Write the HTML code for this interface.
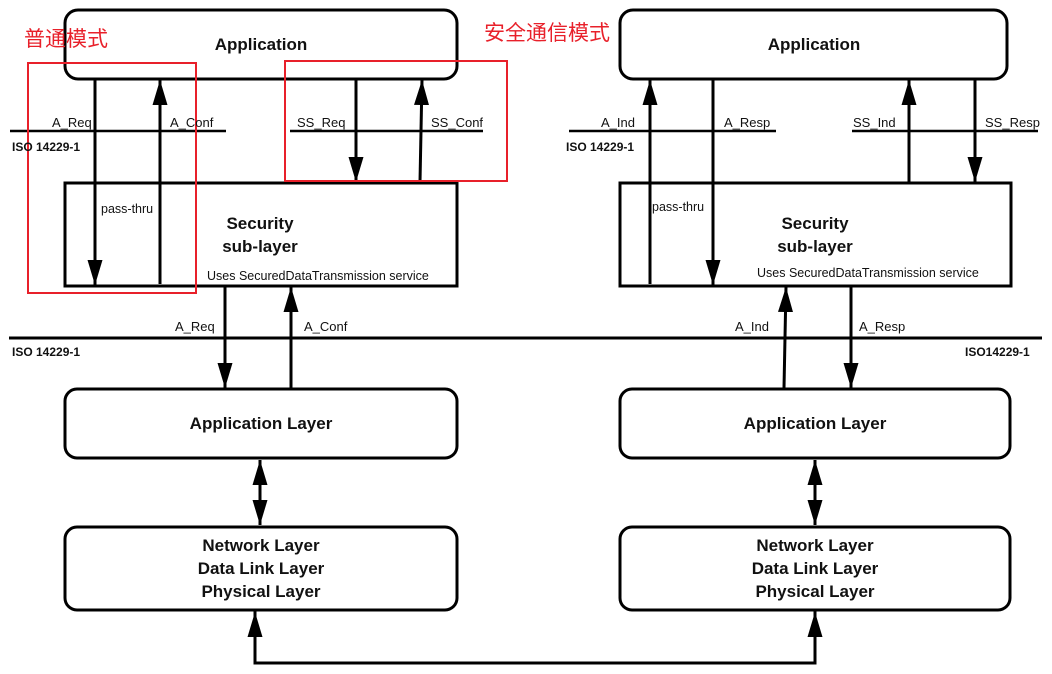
<!DOCTYPE html>
<html><head><meta charset="utf-8"><style>
html,body{margin:0;padding:0;background:#fff;}
svg{display:block;}
text{font-family:"Liberation Sans",Arial,sans-serif;fill:#111;}
.b{font-weight:bold;}
.cn{font-family:"Liberation Sans","Noto Sans CJK SC",sans-serif;fill:#e8202a;}
</style></head><body>
<svg width="1052" height="674" viewBox="0 0 1052 674" xmlns="http://www.w3.org/2000/svg">
<defs>
<marker id="ah" viewBox="0 0 10 10" refX="10" refY="5" markerWidth="25" markerHeight="15" markerUnits="userSpaceOnUse" orient="auto" preserveAspectRatio="none">
<path d="M0,0 L10,5 L0,10 z" fill="#000"/></marker>
</defs>
<g fill="none" stroke="#000" stroke-width="3">
<rect x="65" y="10" width="392" height="69" rx="13"/>
<rect x="620" y="10" width="387" height="69" rx="13"/>
<rect x="65" y="183" width="392" height="103"/>
<rect x="620" y="183" width="391" height="103"/>
<rect x="65" y="389" width="392" height="69" rx="12"/>
<rect x="620" y="389" width="390" height="69" rx="12"/>
<rect x="65" y="527" width="392" height="83" rx="12"/>
<rect x="620" y="527" width="390" height="83" rx="12"/>
<line x1="10" y1="131" x2="226" y2="131" stroke-width="2.5"/>
<line x1="290" y1="131" x2="483" y2="131" stroke-width="2.5"/>
<line x1="569" y1="131" x2="776" y2="131" stroke-width="2.5"/>
<line x1="852" y1="131" x2="1038" y2="131" stroke-width="2.5"/>
<line x1="9" y1="338" x2="1042" y2="338" stroke-width="3"/>
<line x1="95" y1="79" x2="95" y2="285" marker-end="url(#ah)"/>
<line x1="160" y1="284" x2="160" y2="80" marker-end="url(#ah)"/>
<line x1="356" y1="79" x2="356" y2="182" marker-end="url(#ah)"/>
<line x1="420" y1="182" x2="422" y2="80" marker-end="url(#ah)"/>
<line x1="650" y1="284" x2="650" y2="80" marker-end="url(#ah)"/>
<line x1="713" y1="79" x2="713" y2="285" marker-end="url(#ah)"/>
<line x1="909" y1="182" x2="909" y2="80" marker-end="url(#ah)"/>
<line x1="975" y1="79" x2="975" y2="182" marker-end="url(#ah)"/>
<line x1="225" y1="286" x2="225" y2="388" marker-end="url(#ah)"/>
<line x1="291" y1="388" x2="291" y2="287" marker-end="url(#ah)"/>
<line x1="784" y1="388" x2="786" y2="287" marker-end="url(#ah)"/>
<line x1="851" y1="286" x2="851" y2="388" marker-end="url(#ah)"/>
<line x1="260" y1="492" x2="260" y2="460" marker-end="url(#ah)"/>
<line x1="260" y1="492" x2="260" y2="525" marker-end="url(#ah)"/>
<line x1="815" y1="492" x2="815" y2="460" marker-end="url(#ah)"/>
<line x1="815" y1="492" x2="815" y2="525" marker-end="url(#ah)"/>
<polyline points="255,611 255,663 815,663 815,611"/>
<line x1="255" y1="640" x2="255" y2="612" marker-end="url(#ah)"/>
<line x1="815" y1="640" x2="815" y2="612" marker-end="url(#ah)"/>
<rect x="28" y="63" width="168" height="230" stroke="#e8202a" stroke-width="2"/>
<rect x="285" y="61" width="222" height="120" stroke="#e8202a" stroke-width="2"/>
</g>
<text class="cn" x="24" y="46" font-size="21">普通模式</text>
<text class="cn" x="484" y="40" font-size="21">安全通信模式</text>
<g text-anchor="middle" font-size="17">
<text class="b" x="261" y="50">Application</text>
<text class="b" x="814" y="50">Application</text>
<text class="b" x="260" y="229">Security</text>
<text class="b" x="260" y="252">sub-layer</text>
<text class="b" x="815" y="229">Security</text>
<text class="b" x="815" y="252">sub-layer</text>
<text class="b" x="261" y="429">Application Layer</text>
<text class="b" x="815" y="429">Application Layer</text>
<text class="b" x="261" y="551">Network Layer</text>
<text class="b" x="261" y="574">Data Link Layer</text>
<text class="b" x="261" y="597">Physical Layer</text>
<text class="b" x="815" y="551">Network Layer</text>
<text class="b" x="815" y="574">Data Link Layer</text>
<text class="b" x="815" y="597">Physical Layer</text>
</g>
<g font-size="13">
<text x="52" y="127">A_Req</text>
<text x="170" y="127">A_Conf</text>
<text x="297" y="127">SS_Req</text>
<text x="431" y="127">SS_Conf</text>
<text x="601" y="127">A_Ind</text>
<text x="724" y="127">A_Resp</text>
<text x="853" y="127">SS_Ind</text>
<text x="985" y="127">SS_Resp</text>
<text x="175" y="331">A_Req</text>
<text x="304" y="331">A_Conf</text>
<text x="735" y="331">A_Ind</text>
<text x="859" y="331">A_Resp</text>
</g>
<g font-size="12">
<text class="b" x="12" y="151">ISO 14229-1</text>
<text class="b" x="566" y="151">ISO 14229-1</text>
<text class="b" x="12" y="356">ISO 14229-1</text>
<text class="b" x="965" y="356">ISO14229-1</text>
</g>
<g font-size="12.5">
<text x="101" y="213">pass-thru</text>
<text x="652" y="211">pass-thru</text>
<text x="207" y="280">Uses SecuredDataTransmission service</text>
<text x="757" y="277">Uses SecuredDataTransmission service</text>
</g>
</svg>
</body></html>
